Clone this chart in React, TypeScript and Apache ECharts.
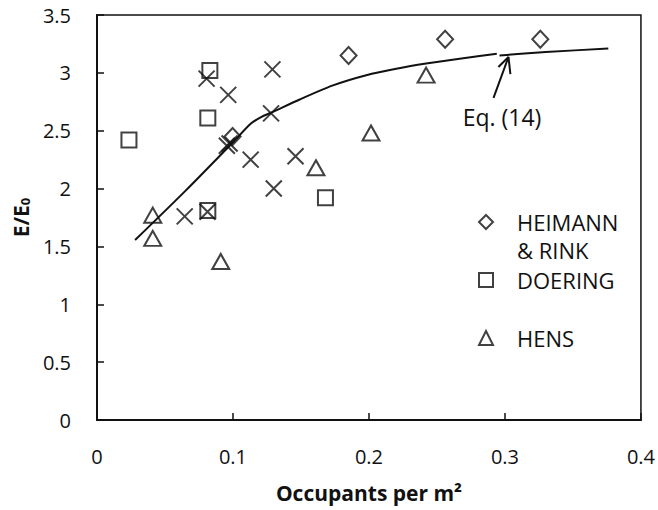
import React, { useEffect, useRef } from "react";
import * as echarts from "echarts";

const heimann: number[][] = [
  [0.0997, 2.45],
  [0.185, 3.15],
  [0.256, 3.29],
  [0.326, 3.29],
];
const doering: number[][] = [
  [0.0235, 2.42],
  [0.083, 3.02],
  [0.0815, 2.61],
  [0.0815, 1.81],
  [0.168, 1.92],
];
const hens: number[][] = [
  [0.041, 1.77],
  [0.041, 1.57],
  [0.091, 1.37],
  [0.161, 2.18],
  [0.2015, 2.48],
  [0.242, 2.98],
];
const others: number[][] = [
  [0.0806, 2.95],
  [0.0965, 2.81],
  [0.129, 3.03],
  [0.128, 2.65],
  [0.0955, 2.37],
  [0.0975, 2.39],
  [0.113, 2.25],
  [0.146, 2.28],
  [0.13, 2.0],
  [0.0645, 1.76],
  [0.0813, 1.8],
];
const eqPart1: number[][] = [
  [0.028, 1.555],
  [0.065, 1.98],
  [0.1, 2.4],
  [0.113, 2.56],
  [0.121, 2.62],
  [0.128, 2.655],
  [0.149, 2.77],
  [0.173, 2.89],
  [0.198, 2.98],
  [0.222, 3.04],
  [0.242, 3.08],
  [0.268, 3.125],
  [0.294, 3.165],
];
const eqPart2: number[][] = [
  [0.296, 3.15],
  [0.33, 3.18],
  [0.376, 3.21],
];
const arrowShaft: number[][] = [
  [0.2916, 2.783],
  [0.3026, 3.137],
];
const arrowHead: number[][] = [
  [0.2952, 3.051],
  [0.3026, 3.137],
  [0.304, 2.99],
];
const xTicks = { min: 0, max: 0.4, interval: 0.1 };
const yTicks = { min: 0, max: 3.5, interval: 0.5 };

const FONT = "'Open Sans', 'Liberation Sans', sans-serif";
const INK = "#111";

export default function App() {
  const ref = useRef<HTMLDivElement>(null);
  useEffect(() => {
    if (!ref.current) return;
    const chart = echarts.init(ref.current, null, { renderer: "svg" });
    const hollow = { color: "rgba(0,0,0,0)", borderColor: INK, borderWidth: 2 };
    const legendBase = {
      orient: "vertical" as const,
      padding: 0,
      itemWidth: 14,
      itemHeight: 14,
      textStyle: {
        fontFamily: FONT,
        fontSize: 22,
        color: INK,
        lineHeight: 28,
        padding: [0, 0, 0, 19],
      },
    };
    chart.setOption({
      animation: false,
      backgroundColor: "#fff",
      textStyle: { fontFamily: FONT },
      grid: {
        left: 97,
        right: 15,
        top: 15,
        bottom: 90,
        show: true,
        borderColor: INK,
        borderWidth: 1.5,
      },
      legend: [
        {
          ...legendBase,
          data: ["HEIMANN & RINK"],
          left: 478,
          top: 180,
          formatter: () => "\nHEIMANN\n& RINK",
        },
        { ...legendBase, data: ["DOERING"], left: 478, top: 266 },
        { ...legendBase, data: ["HENS"], left: 478, top: 324 },
      ],
      xAxis: {
        type: "value",
        ...xTicks,
        name: "Occupants per m²",
        nameLocation: "middle",
        nameGap: 62,
        nameTextStyle: { fontFamily: FONT, fontSize: 21, fontWeight: "bold", color: INK },
        axisLine: { lineStyle: { color: INK, width: 2 } },
        axisTick: { inside: true, length: 7, lineStyle: { color: INK, width: 1.5 } },
        axisLabel: { fontFamily: FONT, fontSize: 20, color: INK, margin: 26 },
        splitLine: { show: false },
      },
      yAxis: {
        type: "value",
        ...yTicks,
        name: "{b|E/E}{s|0}",
        nameLocation: "middle",
        nameRotate: 90,
        nameGap: 64,
        nameTextStyle: {
          rich: {
            b: { fontFamily: FONT, fontSize: 21, fontWeight: "bold", color: INK },
            s: {
              fontFamily: FONT,
              fontSize: 13,
              fontWeight: "bold",
              color: INK,
              verticalAlign: "bottom",
            },
          },
        },
        axisLine: { lineStyle: { color: INK, width: 2 } },
        axisTick: { inside: true, length: 7, lineStyle: { color: INK, width: 1.5 } },
        axisLabel: { fontFamily: FONT, fontSize: 20, color: INK, margin: 26 },
        splitLine: { show: false },
      },
      graphic: [
        {
          type: "text",
          x: 502,
          y: 117,
          style: {
            text: "Eq. (14)",
            font: `23px ${FONT}`,
            fill: INK,
            textAlign: "center",
            textVerticalAlign: "middle",
          },
        },
      ],
      series: [
        {
          name: "Eq. (14)",
          type: "line",
          data: eqPart1,
          symbol: "none",
          smooth: 0.25,
          lineStyle: { color: INK, width: 2 },
          z: 3,
        },
        {
          name: "Eq. (14) b",
          type: "line",
          data: eqPart2,
          symbol: "none",
          smooth: 0.25,
          lineStyle: { color: INK, width: 2 },
          z: 3,
        },
        {
          name: "arrow",
          type: "line",
          data: arrowShaft,
          symbol: "none",
          lineStyle: { color: INK, width: 2 },
        },
        {
          name: "arrowhead",
          type: "line",
          data: arrowHead,
          symbol: "none",
          lineStyle: { color: INK, width: 2 },
        },
        {
          name: "others",
          type: "scatter",
          data: others,
          symbol: "path://M0,0L16,16M16,0L0,16",
          symbolSize: 16,
          itemStyle: { color: "rgba(0,0,0,0)", borderColor: INK, borderWidth: 2 },
          z: 4,
        },
        {
          name: "HEIMANN & RINK",
          type: "scatter",
          data: heimann,
          symbol: "diamond",
          symbolSize: [16, 17],
          itemStyle: hollow,
          z: 4,
        },
        {
          name: "DOERING",
          type: "scatter",
          data: doering,
          symbol: "rect",
          symbolSize: 15,
          itemStyle: hollow,
          z: 4,
        },
        {
          name: "HENS",
          type: "scatter",
          data: hens,
          symbol: "triangle",
          symbolSize: [17, 15],
          itemStyle: hollow,
          z: 4,
        },
      ],
    });
    return () => chart.dispose();
  }, []);
  return (
    <div
      ref={ref}
      style={{ position: "absolute", left: 0, top: 0, width: 658, height: 510 }}
    />
  );
}
